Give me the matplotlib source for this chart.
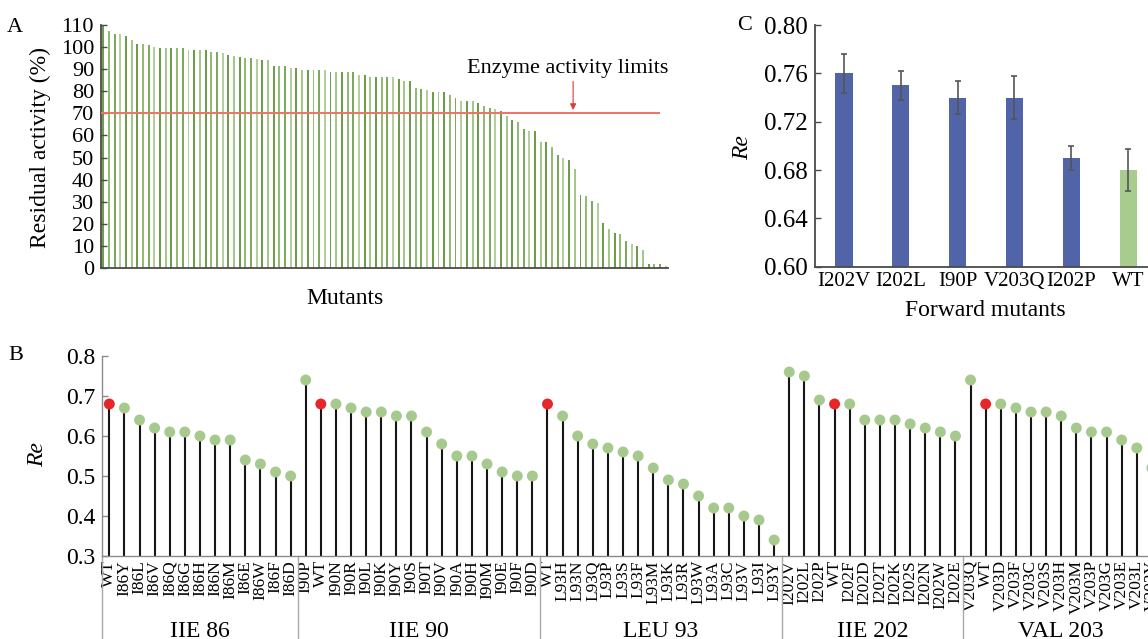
import matplotlib
matplotlib.use('Agg')
import matplotlib.pyplot as plt
import matplotlib.transforms as mtrans

plt.rcParams['font.family'] = ['Liberation Serif', 'DejaVu Serif']
plt.rcParams['mathtext.fontset'] = 'stix'

# ---------------- data ----------------
# Panel A: residual activity (%) of the screened mutants, sorted
residual_activity = [
    109.5, 107.5, 106, 106, 105, 103, 101.5, 101.5, 101, 100,
    99.5, 99.5, 99.5, 99.5, 99.5, 98.5, 98.5, 98.5, 98.5, 98,
    98, 97.5, 96.5, 96, 95.5, 95, 95, 94.5, 94, 94,
    91.5, 91.5, 91.5, 90.5, 90.5, 89.5, 89.5, 89.5, 89.5, 89.5,
    88.5, 88.5, 88.5, 88.5, 88.5, 87.5, 87.5, 86.5, 86.5, 86.5,
    86.5, 86.5, 85.5, 84.5, 84.5, 81.5, 81, 80.5, 79.5, 79.5,
    79.5, 78.5, 77, 75.5, 75.5, 75.5, 74.5, 73.5, 72.5, 72,
    71, 69, 67, 66, 63, 62, 62, 57, 57, 55,
    51, 50, 49, 45, 33, 32.5, 30.5, 29.5, 20.5, 17.5,
    16, 15.5, 12, 11, 10, 8, 2, 2, 2, 1,
]
activity_limit = 70
a_yticks = list(range(0, 111, 10))

# Panel B: Re of mutants grouped by site
group_names = ["IIE 86", "IIE 90", "LEU 93", "IIE 202", "VAL 203"]
ile86_labels = ["WT", "I86Y", "I86L", "I86V", "I86Q", "I86G", "I86H", "I86N",
                "I86M", "I86E", "I86W", "I86F", "I86D"]
ile86_re = [0.68, 0.67, 0.64, 0.62, 0.61, 0.61, 0.60, 0.59, 0.59, 0.54, 0.53, 0.51, 0.50]
ile90_labels = ["I90P", "WT", "I90N", "I90R", "I90L", "I90K", "I90Y", "I90S",
                "I90T", "I90V", "I90A", "I90H", "I90M", "I90E", "I90F", "I90D"]
ile90_re = [0.74, 0.68, 0.68, 0.67, 0.66, 0.66, 0.65, 0.65, 0.61, 0.58, 0.55, 0.55,
            0.53, 0.51, 0.50, 0.50]
leu93_labels = ["WT", "L93H", "L93N", "L93Q", "L93P", "L93S", "L93F", "L93M",
                "L93K", "L93R", "L93W", "L93A", "L93C", "L93V", "L93I", "L93Y"]
leu93_re = [0.68, 0.65, 0.60, 0.58, 0.57, 0.56, 0.55, 0.52, 0.49, 0.48, 0.45, 0.42,
            0.42, 0.40, 0.39, 0.34]
ile202_labels = ["I202V", "I202L", "I202P", "WT", "I202F", "I202D", "I202T", "I202K",
                 "I202S", "I202N", "I202W", "I202E"]
ile202_re = [0.76, 0.75, 0.69, 0.68, 0.68, 0.64, 0.64, 0.64, 0.63, 0.62, 0.61, 0.60]
val203_labels = ["V203Q", "WT", "V203D", "V203F", "V203C", "V203S", "V203H", "V203M",
                 "V203P", "V203G", "V203E", "V203L", "V203Y"]
val203_re = [0.74, 0.68, 0.68, 0.67, 0.66, 0.66, 0.65, 0.62, 0.61, 0.61, 0.59, 0.57, 0.52]
b_yticks = [0.3, 0.4, 0.5, 0.6, 0.7, 0.8]

# Panel C: forward mutants
fwd_labels = ["I202V", "I202L", "I90P", "V203Q", "I202P", "WT"]
fwd_re = [0.76, 0.75, 0.74, 0.74, 0.69, 0.68]
fwd_err = [0.016, 0.012, 0.014, 0.018, 0.010, 0.017]
c_yticks = [0.60, 0.64, 0.68, 0.72, 0.76, 0.80]

# ---------------- layout helpers ----------------
W, H = 1148, 639
fig = plt.figure(figsize=(W / 100, H / 100), dpi=100)

def fx(px):
    return px / W

def fy(py):
    return 1 - py / H

SPINE_DARK = '#4a4a4a'
SPINE_GRAY = '#8a8a8a'

# ---------------- Panel A ----------------
axA = fig.add_axes([fx(101), fy(268), fx(668) - fx(101), fy(25) - fy(268)])
shades = ['#6e9c4a', '#93bb74', '#7ea85c', '#b3d09c', '#6e9c4a', '#a3c689']
bar_colors = [shades[i % len(shades)] for i in range(len(residual_activity))]
xa = list(range(len(residual_activity)))
axA.bar(xa, residual_activity, width=0.34, color=bar_colors, linewidth=0)
axA.set_xlim(-0.4, 99.4)
axA.set_ylim(0, 110)
axA.set_yticks(a_yticks)
axA.set_xticks([])
axA.tick_params(axis='y', direction='in', length=4, width=1, color=SPINE_DARK,
                labelsize=16, pad=5)
for s in ['top', 'right']:
    axA.spines[s].set_visible(False)
for s in ['left', 'bottom']:
    axA.spines[s].set_color(SPINE_DARK)
    axA.spines[s].set_linewidth(1.3)
axA.hlines(activity_limit, -0.4, 98, color='#f07262', lw=1.4, zorder=3)
axA.annotate('', xy=(82.7, 71.5), xytext=(82.7, 84.5),
             arrowprops=dict(arrowstyle='-|>', color='#e23a2e', lw=0.8,
                             mutation_scale=9, shrinkA=0, shrinkB=0))
axA.text(81.8, 88.3, 'Enzyme activity limits', ha='center', va='baseline',
         fontsize=16)
fig.text(fx(345), fy(298), 'Mutants', ha='center', va='center', fontsize=17)
fig.text(fx(40), fy(147), 'Residual activity (%)', rotation=90, ha='center',
         va='center', fontsize=17)
fig.text(fx(15), fy(27), 'A', ha='center', va='center', fontsize=16)

# ---------------- Panel B ----------------
groups_labels = [ile86_labels, ile90_labels, leu93_labels, ile202_labels, val203_labels]
groups_re = [ile86_re, ile90_re, leu93_re, ile202_re, val203_re]
all_labels, all_re, bounds = [], [], []
start = 0
for lab, re_ in zip(groups_labels, groups_re):
    all_labels += lab
    all_re += re_
    bounds.append((start, start + len(lab) - 1))
    start += len(lab)
kb = list(range(len(all_labels)))

step_px = 15.11
x0_px = 109.3
left_k = (102 - x0_px) / step_px
right_k = (1164 - x0_px) / step_px
axB = fig.add_axes([fx(102), fy(556), (1164 - 102) / W, fy(356) - fy(556)])
axB.vlines(kb, 0.3, all_re, color='#161616', lw=1.5, zorder=2)
dot_colors = ['#e8262a' if l == 'WT' else '#a6c98d' for l in all_labels]
axB.scatter(kb, all_re, s=62, c=dot_colors, zorder=3, linewidths=0)
axB.set_xlim(left_k, right_k)
axB.set_ylim(0.3, 0.8)
axB.set_yticks(b_yticks)
axB.set_yticklabels([f'{v:.1f}' for v in b_yticks])
axB.set_xticks(kb)
axB.set_xticklabels(all_labels, rotation=90, fontsize=12.5, va='top', ha='center')
axB.tick_params(axis='x', length=0, pad=3)
axB.tick_params(axis='y', direction='in', length=4, width=1, color=SPINE_GRAY,
                labelsize=17, pad=5)
for s in ['top', 'right']:
    axB.spines[s].set_visible(False)
for s in ['left', 'bottom']:
    axB.spines[s].set_color(SPINE_GRAY)
    axB.spines[s].set_linewidth(1.0)
trans = mtrans.blended_transform_factory(axB.transData, axB.transAxes)
sep_x = [left_k] + [(bounds[i][1] + bounds[i + 1][0]) / 2 for i in range(len(bounds) - 1)]
for sx in sep_x:
    axB.plot([sx, sx], [0, -0.5], transform=trans, color='#a8a8a8', lw=1.0,
             clip_on=False)
for name, (a, b) in zip(group_names, bounds):
    xc_px = x0_px + (a + b) / 2 * step_px
    fig.text(fx(xc_px), fy(637), name, ha='center', va='baseline', fontsize=17)
fig.text(fx(38), fy(455), 'Re', rotation=90, ha='center', va='center',
         fontsize=17, style='italic')
fig.text(fx(16), fy(355), 'B', ha='center', va='center', fontsize=16)

# ---------------- Panel C ----------------
axC = fig.add_axes([fx(815), fy(266.7), (1148 - 815) / W, fy(25) - fy(266.7)])
xc = list(range(len(fwd_labels)))
c_colors = ['#a8cc8e' if l == 'WT' else '#5264a8' for l in fwd_labels]
axC.bar(xc, fwd_re, width=0.3, color=c_colors, linewidth=0,
        yerr=fwd_err, error_kw=dict(ecolor='#555555', elinewidth=1.2, capsize=2.5,
                                    capthick=1.2))
axC.set_xlim(-0.51, 5.35)
axC.set_ylim(0.6, 0.8)
axC.set_yticks(c_yticks)
axC.set_yticklabels([f'{v:.2f}' for v in c_yticks])
axC.set_xticks(xc)
axC.set_xticklabels(fwd_labels, fontsize=15)
axC.tick_params(axis='x', length=0, pad=4)
axC.tick_params(axis='y', direction='in', length=4, width=1, color=SPINE_DARK,
                labelsize=18, pad=5)
for s in ['top', 'right']:
    axC.spines[s].set_visible(False)
for s in ['left', 'bottom']:
    axC.spines[s].set_color(SPINE_DARK)
    axC.spines[s].set_linewidth(1.3)
fig.text(fx(985), fy(311), 'Forward mutants', ha='center', va='center', fontsize=17)
fig.text(fx(743), fy(148), 'Re', rotation=90, ha='center', va='center',
         fontsize=17, style='italic')
fig.text(fx(745), fy(25), 'C', ha='center', va='center', fontsize=16)

fig.savefig('out.png', dpi=100)
